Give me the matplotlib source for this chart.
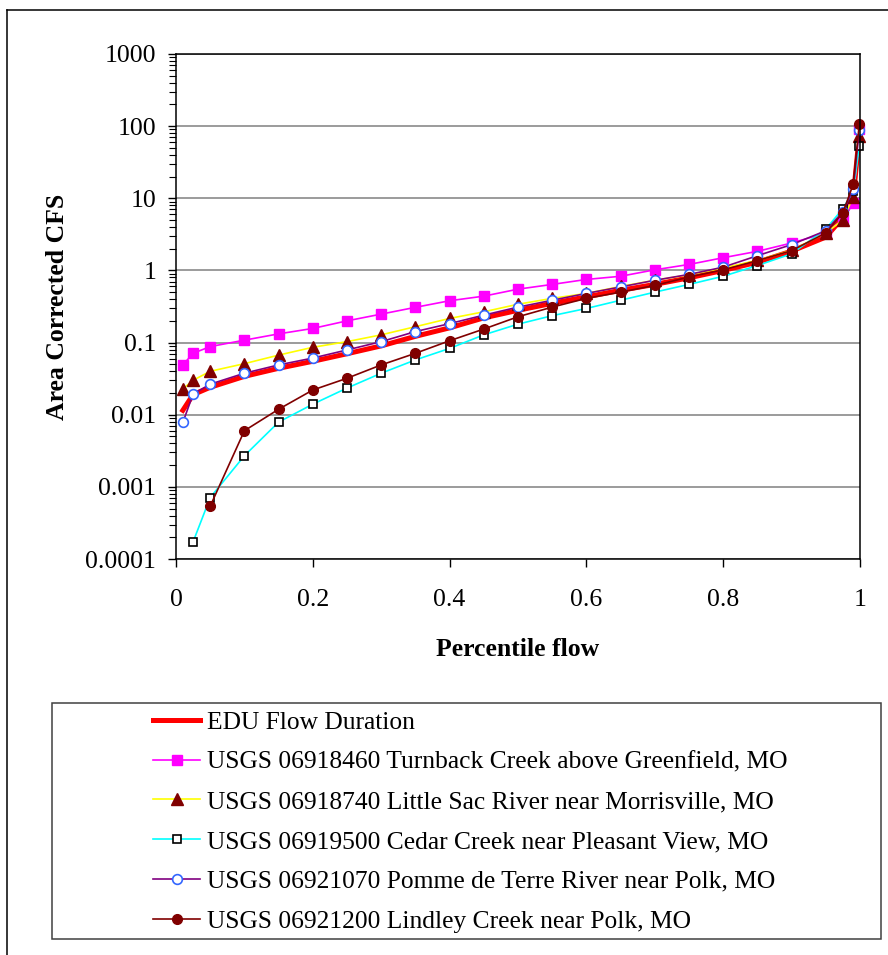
import matplotlib.pyplot as plt
from matplotlib.lines import Line2D
from matplotlib.patches import Rectangle
import matplotlib.ticker as mticker
import numpy as np

# percentile flow positions shared by every gauge
pct = [0.01, 0.025, 0.05, 0.1, 0.15, 0.2, 0.25, 0.3, 0.35, 0.4, 0.45, 0.5,
       0.55, 0.6, 0.65, 0.7, 0.75, 0.8, 0.85, 0.9, 0.95, 0.975, 0.99, 0.999]

edu = [0.0115, 0.019, 0.024, 0.034, 0.044, 0.055, 0.070, 0.090, 0.122, 0.16,
       0.22, 0.28, 0.35, 0.43, 0.53, 0.64, 0.79, 1.0, 1.3, 1.85, 2.9, 5.4, 10, 76]
turnback = [0.049, 0.071, 0.088, 0.108, 0.132, 0.157, 0.20, 0.248, 0.308, 0.38,
            0.44, 0.55, 0.64, 0.75, 0.83, 1.02, 1.21, 1.5, 1.84, 2.4, 3.3, 5.1, 8.5, 92]
little_sac = [0.0227, 0.030, 0.040, 0.051, 0.067, 0.086, 0.103, 0.128, 0.166, 0.216,
              0.267, 0.34, 0.41, 0.48, 0.60, 0.73, 0.87, 1.08, 1.38, 1.9, 3.3, 5.0, 10.5, 72]
# zero flows can't go on a log axis, leave them blank
cedar = [np.nan, 0.000173, 0.00071, 0.0027, 0.0079, 0.014, 0.0234, 0.0376, 0.0575, 0.083,
         0.128, 0.18, 0.236, 0.297, 0.386, 0.50, 0.64, 0.83, 1.17, 1.70, 3.74, 7.2, 12.5, 53]
pomme = [0.0078, 0.0193, 0.0265, 0.0376, 0.049, 0.061, 0.079, 0.103, 0.142, 0.183,
         0.24, 0.31, 0.386, 0.48, 0.59, 0.73, 0.88, 1.11, 1.6, 2.28, 3.55, 6.5, 13.3, 89]
lindley = [np.nan, np.nan, 0.00054, 0.0060, 0.0119, 0.022, 0.032, 0.049, 0.071, 0.106,
           0.154, 0.228, 0.31, 0.41, 0.50, 0.62, 0.81, 1.02, 1.37, 1.88, 3.3, 6.3, 15.6, 107]

labels = ["EDU Flow Duration",
          "USGS 06918460 Turnback Creek above Greenfield, MO",
          "USGS 06918740 Little Sac River near Morrisville, MO",
          "USGS 06919500 Cedar Creek near Pleasant View, MO",
          "USGS 06921070 Pomme de Terre River near Polk, MO",
          "USGS 06921200 Lindley Creek near Polk, MO"]

plt.rcParams['font.family'] = ['Liberation Serif', 'DejaVu Serif']

W, H = 888, 955
fig = plt.figure(figsize=(W / 100, H / 100), dpi=100)
ax = fig.add_axes([176 / W, 1 - 559 / H, 684 / W, 505 / H])

dred = '#800000'
ax.plot(pct, edu, color='#FF0000', lw=3.6, label=labels[0], clip_on=False)
ax.plot(pct, turnback, color='#FF00FF', lw=1.2, marker='s', ms=7,
        mfc='#FF00FF', mec='#FF00FF', label=labels[1], clip_on=False)
ax.plot(pct, little_sac, color='#FFFF00', lw=1.2, marker='^', ms=8.5,
        mfc=dred, mec=dred, label=labels[2], clip_on=False)
ax.plot(pct, cedar, color='#00FFFF', lw=1.2, marker='s', ms=6,
        mfc='white', mec='black', mew=1.2, label=labels[3], clip_on=False)
ax.plot(pct, pomme, color='#800080', lw=1.2, marker='o', ms=7,
        mfc='white', mec='#3366FF', mew=1.2, label=labels[4], clip_on=False)
ax.plot(pct, lindley, color=dred, lw=1.2, marker='o', ms=7,
        mfc=dred, mec=dred, label=labels[5], clip_on=False)

ax.set_yscale('log')
ax.set_ylim(1e-4, 1e3)
ax.set_xlim(0, 1)
ax.set_xticks([0, 0.2, 0.4, 0.6, 0.8, 1.0])
ax.xaxis.set_major_formatter(mticker.FuncFormatter(lambda v, p: f"{v:g}"))
ax.set_yticks([1e-4, 1e-3, 1e-2, 1e-1, 1, 10, 100, 1000])
ax.yaxis.set_major_formatter(mticker.FuncFormatter(lambda v, p: f"{v:g}"))
ax.yaxis.set_minor_locator(mticker.LogLocator(base=10, subs=np.arange(2, 10), numticks=20))
ax.yaxis.set_minor_formatter(mticker.NullFormatter())

ax.tick_params(axis='both', which='major', direction='out', length=5.8, width=1,
               labelsize=18.5, color='black')
ax.tick_params(axis='y', which='major', pad=8.5)
ax.tick_params(axis='x', which='major', pad=16)
ax.tick_params(axis='y', which='minor', direction='out', length=5, width=0.8)
ax.grid(True, which='major', axis='y', color='#808080', lw=1.1)
ax.set_axisbelow(True)
for s in ax.spines.values():
    s.set_linewidth(1.1)
    s.set_color('black')

ax.set_xlabel("Percentile flow", fontsize=18.5, fontweight='bold', labelpad=19)
ax.set_ylabel("Area Corrected CFS", fontsize=18.5, fontweight='bold', labelpad=12)

# legend sits in its own box under the plot
handles, lbls = ax.get_legend_handles_labels()
leg = fig.legend(handles, lbls, loc='upper left', bbox_to_anchor=(153 / W, 1 - 711 / H),
                 frameon=False, fontsize=18.4, numpoints=1, handlelength=1.85,
                 handletextpad=0.28, labelspacing=0.66, borderpad=0, borderaxespad=0)
fig.patches.append(Rectangle((52 / W, 1 - 939 / H), 829 / W, 236 / H, transform=fig.transFigure,
                             fill=False, ec='#404040', lw=1.1))

# outer chart frame
fig.add_artist(Line2D([7 / W, 7 / W], [0, 1 - 10 / H], color='black', lw=1.1))
fig.add_artist(Line2D([7 / W, 1], [1 - 10 / H, 1 - 10 / H], color='black', lw=1.1))

fig.savefig('out.png', dpi=100)
